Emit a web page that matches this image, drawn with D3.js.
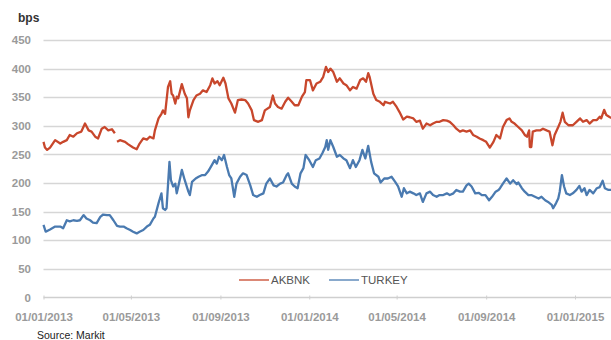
<!DOCTYPE html>
<html>
<head>
<meta charset="utf-8">
<script src="https://cdnjs.cloudflare.com/ajax/libs/d3/7.8.5/d3.min.js"></script>
<style>
html,body{margin:0;padding:0;background:#fff;}
svg{display:block;font-family:"Liberation Sans",Arial,sans-serif;}
</style>
</head>
<body>
<svg id="chart" width="611" height="340"></svg>
<script>
const yTicks = [0, 50, 100, 150, 200, 250, 300, 350, 400, 450];
const xTickLabels = ["01/01/2013","01/05/2013","01/09/2013","01/01/2014","01/05/2014","01/09/2014","01/01/2015"];
const seriesNames = ["AKBNK", "TURKEY"];
const seriesColors = ["#c8472c", "#4a7ab0"];

const akbnkDates = ["2013-01-01","2013-01-03","2013-01-06","2013-01-10","2013-01-17","2013-01-24","2013-01-28","2013-02-02","2013-02-06","2013-02-11","2013-02-16","2013-02-22","2013-02-27","2013-03-04","2013-03-08","2013-03-13","2013-03-17","2013-03-22","2013-03-26","2013-03-31","2013-04-05","2013-04-09","2013-04-11","2013-04-12","2013-04-16","2013-04-23","2013-04-27","2013-05-04","2013-05-09","2013-05-13","2013-05-18","2013-05-23","2013-05-27","2013-06-01","2013-06-03","2013-06-08","2013-06-12","2013-06-14","2013-06-17","2013-06-21","2013-06-24","2013-06-26","2013-06-28","2013-07-01","2013-07-03","2013-07-05","2013-07-10","2013-07-14","2013-07-17","2013-07-19","2013-07-21","2013-07-26","2013-07-30","2013-08-04","2013-08-08","2013-08-13","2013-08-18","2013-08-21","2013-08-24","2013-08-28","2013-08-31","2013-09-05","2013-09-08","2013-09-12","2013-09-16","2013-09-21","2013-09-25","2013-09-30","2013-10-05","2013-10-09","2013-10-14","2013-10-17","2013-10-23","2013-10-28","2013-11-01","2013-11-08","2013-11-12","2013-11-15","2013-11-19","2013-11-24","2013-11-29","2013-12-03","2013-12-08","2013-12-12","2013-12-17","2013-12-22","2013-12-26","2013-12-28","2014-01-02","2014-01-06","2014-01-11","2014-01-16","2014-01-20","2014-01-24","2014-01-27","2014-01-30","2014-02-03","2014-02-08","2014-02-12","2014-02-17","2014-02-21","2014-02-26","2014-03-02","2014-03-07","2014-03-12","2014-03-16","2014-03-20","2014-03-23","2014-03-25","2014-03-30","2014-04-03","2014-04-08","2014-04-13","2014-04-15","2014-04-22","2014-04-26","2014-05-01","2014-05-05","2014-05-10","2014-05-15","2014-05-19","2014-05-24","2014-05-28","2014-06-02","2014-06-06","2014-06-11","2014-06-16","2014-06-20","2014-06-25","2014-06-29","2014-07-04","2014-07-09","2014-07-13","2014-07-18","2014-07-22","2014-07-27","2014-07-31","2014-08-05","2014-08-10","2014-08-14","2014-08-19","2014-08-23","2014-08-28","2014-09-01","2014-09-06","2014-09-11","2014-09-15","2014-09-20","2014-09-24","2014-09-29","2014-10-03","2014-10-06","2014-10-10","2014-10-15","2014-10-20","2014-10-24","2014-10-27","2014-10-30","2014-10-31","2014-11-02","2014-11-04","2014-11-09","2014-11-14","2014-11-18","2014-11-23","2014-11-27","2014-12-01","2014-12-04","2014-12-09","2014-12-12","2014-12-15","2014-12-18","2014-12-23","2014-12-29","2015-01-03","2015-01-08","2015-01-12","2015-01-17","2015-01-21","2015-01-26","2015-01-31","2015-02-04","2015-02-06","2015-02-10","2015-02-13","2015-02-18","2015-02-20"];
const akbnkValues = [272,262,258,262,275,269,272,275,284,281,287,290,304,292,290,281,278,295,298,292,294,287,null,272,275,272,268,262,259,269,278,276,281,278,292,313,321,327,321,368,378,356,353,339,351,348,373,356,348,315,327,345,353,356,362,359,371,383,374,378,371,384,374,348,339,323,345,346,345,339,327,310,307,310,327,333,353,339,333,330,342,349,342,336,336,351,359,380,380,362,374,377,385,403,394,400,394,377,383,374,371,362,368,365,380,383,377,392,385,356,345,342,336,342,339,342,333,324,311,316,315,313,307,309,295,304,301,304,307,307,310,309,307,301,295,290,292,290,292,284,281,278,275,272,262,272,284,278,298,310,313,307,304,298,292,284,281,292,263,263,290,292,292,295,292,290,266,284,298,307,323,307,301,301,307,313,307,310,304,310,310,316,313,328,319,315,314];

const turkeyDates = ["2013-01-01","2013-01-04","2013-01-10","2013-01-17","2013-01-24","2013-01-28","2013-02-02","2013-02-06","2013-02-11","2013-02-16","2013-02-20","2013-02-25","2013-03-01","2013-03-06","2013-03-10","2013-03-15","2013-03-20","2013-03-24","2013-03-29","2013-04-02","2013-04-07","2013-04-12","2013-04-16","2013-04-21","2013-04-25","2013-04-30","2013-05-04","2013-05-09","2013-05-13","2013-05-18","2013-05-23","2013-05-27","2013-06-01","2013-06-03","2013-06-08","2013-06-12","2013-06-14","2013-06-17","2013-06-19","2013-06-23","2013-06-25","2013-06-28","2013-07-01","2013-07-03","2013-07-06","2013-07-10","2013-07-14","2013-07-19","2013-07-21","2013-07-24","2013-07-29","2013-08-02","2013-08-07","2013-08-11","2013-08-15","2013-08-20","2013-08-24","2013-08-27","2013-08-30","2013-09-03","2013-09-06","2013-09-10","2013-09-13","2013-09-16","2013-09-20","2013-09-23","2013-09-28","2013-10-02","2013-10-07","2013-10-12","2013-10-16","2013-10-21","2013-10-25","2013-10-30","2013-11-03","2013-11-08","2013-11-13","2013-11-17","2013-11-22","2013-11-26","2013-12-01","2013-12-03","2013-12-08","2013-12-12","2013-12-16","2013-12-20","2013-12-24","2013-12-27","2014-01-01","2014-01-06","2014-01-10","2014-01-15","2014-01-19","2014-01-23","2014-01-25","2014-01-27","2014-01-30","2014-02-03","2014-02-08","2014-02-12","2014-02-17","2014-02-21","2014-02-26","2014-03-02","2014-03-06","2014-03-11","2014-03-15","2014-03-19","2014-03-23","2014-03-27","2014-03-31","2014-04-06","2014-04-09","2014-04-14","2014-04-19","2014-04-24","2014-04-29","2014-05-03","2014-05-08","2014-05-11","2014-05-15","2014-05-19","2014-05-24","2014-05-28","2014-06-02","2014-06-06","2014-06-11","2014-06-16","2014-06-20","2014-06-25","2014-06-29","2014-07-04","2014-07-09","2014-07-13","2014-07-18","2014-07-22","2014-07-27","2014-07-31","2014-08-05","2014-08-08","2014-08-12","2014-08-17","2014-08-22","2014-08-26","2014-08-31","2014-09-05","2014-09-09","2014-09-14","2014-09-18","2014-09-20","2014-09-24","2014-09-29","2014-10-04","2014-10-08","2014-10-13","2014-10-15","2014-10-20","2014-10-24","2014-10-29","2014-11-02","2014-11-07","2014-11-12","2014-11-16","2014-11-21","2014-11-25","2014-11-30","2014-12-02","2014-12-06","2014-12-09","2014-12-11","2014-12-14","2014-12-17","2014-12-20","2014-12-25","2014-12-29","2015-01-03","2015-01-07","2015-01-10","2015-01-14","2015-01-17","2015-01-21","2015-01-26","2015-01-31","2015-02-04","2015-02-08","2015-02-11","2015-02-16","2015-02-20"];
const turkeyValues = [127,115,119,124,124,121,135,133,135,134,135,144,138,135,131,130,141,145,144,144,135,125,124,124,121,118,115,112,115,118,124,127,138,141,165,182,156,153,156,237,205,194,199,182,199,223,205,185,179,202,208,211,214,214,220,231,240,234,246,240,249,228,214,208,176,199,211,217,214,196,179,176,179,182,199,208,196,194,199,201,214,217,199,194,191,217,226,249,240,228,240,243,252,263,275,258,275,263,246,249,243,240,226,240,228,240,258,243,265,237,217,211,201,208,208,211,202,194,176,191,182,185,182,179,182,167,182,185,179,176,179,179,182,179,182,188,185,185,196,199,194,182,183,179,179,170,176,185,188,191,199,208,199,205,198,201,191,185,179,179,176,173,176,170,167,162,156,165,173,185,214,194,182,179,182,188,195,185,191,179,188,182,191,193,204,191,188,188];

const svg = d3.select("#chart");
const W = 611, H = 340;
const parse = d3.utcParse("%Y-%m-%d");

const x = d3.scaleUtc()
  .domain([parse("2013-01-01"), parse("2015-01-01")])
  .range([43.5, 575]);
const y = d3.scaleLinear().domain([0, 450]).range([297.5, 40]);

// gridlines
svg.append("g").selectAll("line")
  .data(yTicks.filter(d => d > 0))
  .join("line")
  .attr("x1", 43.5).attr("x2", W)
  .attr("y1", d => Math.round(y(d)) + 0.5).attr("y2", d => Math.round(y(d)) + 0.5)
  .attr("stroke", "#d6d6d6").attr("stroke-width", 1.3);

// x axis
const xTickDates = xTickLabels.map(s => { const p = s.split("/"); return parse(p[2] + "-" + p[1] + "-" + p[0]); });
const xAxis = d3.axisBottom(x)
  .tickValues(xTickDates)
  .tickFormat((d, i) => xTickLabels[i])
  .tickSizeInner(3).tickSizeOuter(0).tickPadding(12);
const gx = svg.append("g").attr("transform", "translate(0," + 297.5 + ")").call(xAxis);
gx.select(".domain").remove();
gx.append("line").attr("x1", 43.5).attr("x2", W).attr("y1", 0).attr("y2", 0)
  .attr("stroke", "#cfcfcf").attr("stroke-width", 1.5);
gx.selectAll(".tick line").attr("stroke", "#cfcfcf").attr("y1", -2).attr("y2", 2);
gx.selectAll(".tick text")
  .attr("fill", "#9a9a9a").attr("font-size", 11.5).attr("font-weight", "bold")
  .attr("font-family", "'Liberation Sans', Arial, sans-serif");

// y axis labels
const yAxis = d3.axisLeft(y).tickValues(yTicks).tickSize(0).tickPadding(0);
const gy = svg.append("g").attr("transform", "translate(31,0)").call(yAxis);
gy.select(".domain").remove();
gy.selectAll(".tick text")
  .attr("fill", "#9a9a9a").attr("font-size", 11.5).attr("font-weight", "bold")
  .attr("font-family", "'Liberation Sans', Arial, sans-serif");

// unit label
svg.append("text").attr("x", 18).attr("y", 22)
  .attr("font-size", 12).attr("font-weight", "bold").attr("fill", "#333")
  .text("bps");

// series
svg.append("defs").append("clipPath").attr("id", "clip")
  .append("rect").attr("x", 40).attr("y", 0).attr("width", W - 40).attr("height", 300);

const line = d3.line()
  .defined(d => d.v != null)
  .x(d => x(d.date)).y(d => y(d.v))
  .curve(d3.curveLinear);

const akbnk = akbnkDates.map((s, i) => ({ date: parse(s), v: akbnkValues[i] }));
const turkey = turkeyDates.map((s, i) => ({ date: parse(s), v: turkeyValues[i] }));
const g = svg.append("g").attr("clip-path", "url(#clip)");
[akbnk, turkey].forEach((data, i) => {
  g.append("path").datum(data)
    .attr("fill", "none").attr("stroke", seriesColors[i])
    .attr("stroke-width", 2.3).attr("stroke-linejoin", "round")
    .attr("d", line);
});

// legend
const legendX = [239, 329];
const lg = svg.append("g");
seriesNames.forEach((name, i) => {
  lg.append("line").attr("x1", legendX[i]).attr("x2", legendX[i] + 30)
    .attr("y1", 280).attr("y2", 280)
    .attr("stroke", seriesColors[i]).attr("stroke-width", 1.3);
  lg.append("text").attr("x", legendX[i] + 32).attr("y", 284)
    .attr("font-size", 11.5).attr("fill", "#555").text(name);
});

// source
svg.append("text").attr("x", 37).attr("y", 339)
  .attr("font-size", 10.5).attr("fill", "#222").text("Source: Markit");
</script>
</body>
</html>
